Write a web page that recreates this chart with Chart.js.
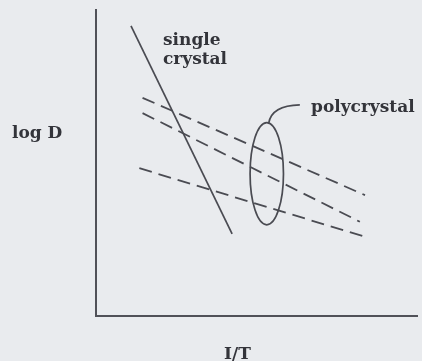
<!DOCTYPE html>
<html>
<head>
<meta charset="utf-8">
<script src="https://cdn.jsdelivr.net/npm/chart.js@4.4.1/dist/chart.umd.min.js"></script>
<style>
  html, body { margin: 0; padding: 0; background: #e9ebee; }
  canvas { display: block; }
</style>
</head>
<body>
<canvas id="c" width="422" height="361"></canvas>
<script>
// log D plotted against 1/T: one steep single-crystal line and
// a family of shallower polycrystal lines (arbitrary units).
const singleX = [1.09, 4.24];
const singleY = [9.48, 2.68];

const polyX = [
  [1.45, 8.38],
  [1.45, 8.22],
  [1.35, 8.38]
];
const polyY = [
  [7.13, 3.95],
  [6.63, 3.08],
  [4.83, 2.59]
];

// grouping ellipse around the polycrystal lines (centre, half-axes) and its leader
const groupCenter = [5.32, 4.65];
const groupRadii = [0.52, 1.67];
const leaderPath = [[5.38, 6.30], [5.47, 6.88], [6.35, 6.90]];

const labels = {
  single: ['single', 'crystal'],
  poly: 'polycrystal',
  yTitle: 'log D',
  xTitle: 'I/T'
};

const ink = '#4a4b52';
const textInk = '#33343a';
const labelFont = 'bold 17px "DejaVu Serif", serif';

function toPoints(xs, ys) {
  return xs.map((x, i) => ({ x, y: ys[i] }));
}

const datasets = [{
  label: 'single crystal',
  data: toPoints(singleX, singleY),
  borderColor: ink,
  borderWidth: 1.7,
  pointRadius: 0,
  showLine: true
}];
polyX.forEach((xs, i) => {
  datasets.push({
    label: 'polycrystal ' + (i + 1),
    data: toPoints(xs, polyY[i]),
    borderColor: ink,
    borderWidth: 1.8,
    borderDash: [13, 7],
    pointRadius: 0,
    showLine: true
  });
});

const annotations = {
  id: 'annotations',
  afterDatasetsDraw(chart) {
    const { ctx, scales: { x, y } } = chart;
    ctx.save();
    ctx.strokeStyle = ink;
    ctx.lineWidth = 1.7;
    // ellipse
    const cx = x.getPixelForValue(groupCenter[0]);
    const cy = y.getPixelForValue(groupCenter[1]);
    const rx = Math.abs(x.getPixelForValue(groupCenter[0] + groupRadii[0]) - cx);
    const ry = Math.abs(y.getPixelForValue(groupCenter[1] + groupRadii[1]) - cy);
    ctx.beginPath();
    ctx.ellipse(cx, cy, rx, ry, 0, 0, Math.PI * 2);
    ctx.stroke();
    // leader curve to the label
    const p = leaderPath.map(([a, b]) => [x.getPixelForValue(a), y.getPixelForValue(b)]);
    ctx.beginPath();
    ctx.moveTo(p[0][0], p[0][1]);
    ctx.quadraticCurveTo(p[1][0], p[1][1], p[2][0], p[2][1]);
    ctx.stroke();
    ctx.restore();
  },
  afterDraw(chart) {
    const { ctx, scales: { x } } = chart;
    ctx.save();
    ctx.fillStyle = textInk;
    ctx.font = labelFont;
    ctx.textBaseline = 'alphabetic';
    ctx.textAlign = 'left';
    ctx.fillText(labels.single[0], 163, 45);
    ctx.fillText(labels.single[1], 163, 64);
    ctx.fillText(labels.poly, 311, 112);
    ctx.fillText(labels.yTitle, 12, 138);
    ctx.textAlign = 'center';
    ctx.fillText(labels.xTitle, (x.left + x.right) / 2 - 19, 359);
    ctx.restore();
  }
};

const axisOpts = {
  min: 0,
  max: 10,
  ticks: { display: false },
  grid: { display: false, drawTicks: false },
  border: { display: true, color: '#505158', width: 2 }
};

new Chart(document.getElementById('c'), {
  type: 'scatter',
  data: { datasets },
  options: {
    responsive: false,
    animation: false,
    layout: { padding: { left: 96, top: 10, right: 5, bottom: 45 } },
    plugins: { legend: { display: false }, tooltip: { enabled: false } },
    scales: {
      x: { ...axisOpts, type: 'linear', position: 'bottom' },
      y: { ...axisOpts, type: 'linear', position: 'left' }
    }
  },
  plugins: [annotations]
});
</script>
</body>
</html>
